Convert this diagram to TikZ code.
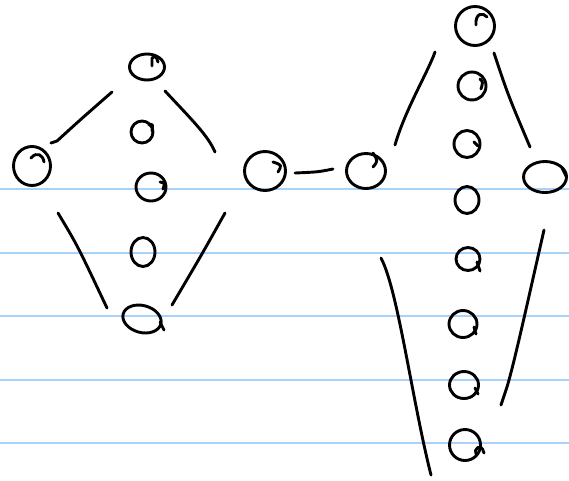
\documentclass[tikz,border=0pt]{standalone}
\usetikzlibrary{shapes.geometric}
\definecolor{ruleblue}{RGB}{168,210,247}
\begin{document}
\begin{tikzpicture}[x=1pt,y=-1pt,
  ink/.style={line width=2.9pt,line cap=round,line join=round,black},
  blob/.style={ellipse,draw,ink,inner sep=0pt},
  rule/.style={ruleblue,line width=1.8pt}]
\useasboundingbox (0,0) rectangle (569,480);
% ruled lines
\foreach \y/\n in {189/a,253/b,316/c,380/d,443/e}{
  \coordinate (rl\n) at (0,\y); \coordinate (rr\n) at (569,\y);
  \draw[rule] (rl\n) -- (rr\n);}
% left structure
\node[blob,minimum width=35pt,minimum height=26pt] (ltop) at (147,67) {};
\node[blob,minimum width=37pt,minimum height=39pt] (lleft) at (32,166) {};
\node[blob,minimum width=22pt,minimum height=22pt] (lm1) at (142,132) {};
\node[blob,minimum width=30pt,minimum height=28pt] (lm2) at (151,187) {};
\node[blob,minimum width=24pt,minimum height=29pt] (lm3) at (143,252) {};
\node[blob,minimum width=39pt,minimum height=27pt,rotate=-15] (lbot) at (142,319) {};
\node[blob,minimum width=41pt,minimum height=39pt] (mid1) at (265,171) {};
\node[blob,minimum width=39pt,minimum height=35pt] (mid2) at (366,171) {};
% right structure
\node[blob,minimum width=39pt,minimum height=39pt] (rtop) at (475,26) {};
\node[blob,minimum width=28pt,minimum height=28pt] (rc1) at (472,86) {};
\node[blob,minimum width=26pt,minimum height=27pt] (rc2) at (467,144) {};
\node[blob,minimum width=24pt,minimum height=27pt] (rc3) at (467,200) {};
\node[blob,minimum width=24pt,minimum height=23pt] (rc4) at (468,259) {};
\node[blob,minimum width=28pt,minimum height=27pt] (rc5) at (463,324) {};
\node[blob,minimum width=29pt,minimum height=27pt] (rc6) at (464,385) {};
\node[blob,minimum width=31pt,minimum height=31pt] (rc7) at (465,445) {};
\node[blob,minimum width=43pt,minimum height=31pt] (rright) at (545,177) {};
% hooks
\draw[ink] (152,66) -- (152,58) .. controls (156,56) .. (158,62);
\draw[ink] (31,158) .. controls (37,151) and (43,155) .. (44,162);
\draw[ink] (149,125) .. controls (153,124) .. (152,131);
\draw[ink] (160,182) .. controls (165,183) .. (163,189);
\draw[ink] (273,162) .. controls (282,165) .. (278,172);
\draw[ink] (373,153) .. controls (378,161) .. (373,167);
\draw[ink] (476,25) .. controls (475,13) and (483,12) .. (487,17);
\draw[ink] (480,79) .. controls (483,82) .. (481,89);
\draw[ink] (474,142) -- (478,146);
\draw[ink] (477,262) -- (480,271);
\draw[ink] (474,327) -- (476,334);
\draw[ink] (475,388) -- (478,394);
\draw[ink] (160,322) -- (164,330);
\draw[ink] (562,168) -- (566,176);
\draw[ink] (476,454) .. controls (473,450) and (481,441) .. (484,453);
% connectors
\coordinate (a1) at (51,143); \coordinate (a2) at (112,92);
\draw[ink] (a1) -- (57,141) .. controls (80,120) .. (a2);
\coordinate (b1) at (165,91); \coordinate (b2) at (215,152);
\draw[ink] (b1) .. controls (195,123) and (208,136) .. (b2);
\coordinate (c1) at (58,213); \coordinate (c2) at (107,308);
\draw[ink] (c1) .. controls (77.5,245.5) .. (c2);
\coordinate (d1) at (225,213); \coordinate (d2) at (172,305);
\draw[ink] (d1) .. controls (201.5,255) .. (d2);
\coordinate (e1) at (295,173); \coordinate (e2) at (333,169);
\draw[ink] (e1) .. controls (318,172) .. (e2);
\coordinate (f1) at (435,52); \coordinate (f2) at (395,145);
\draw[ink] (f1) .. controls (428,72) and (405,110) .. (f2);
\coordinate (g1) at (494,53); \coordinate (g2) at (530,147);
\draw[ink] (g1) .. controls (508,95) .. (g2);
\coordinate (h1) at (381,258); \coordinate (h2) at (431,475);
\draw[ink] (h1) .. controls (398,290) and (412,400) .. (h2);
\coordinate (k1) at (544,230); \coordinate (k2) at (501,405);
\draw[ink] (k1) .. controls (528,300) and (515,360) .. (507,387) -- (k2);
\end{tikzpicture}
\end{document}
